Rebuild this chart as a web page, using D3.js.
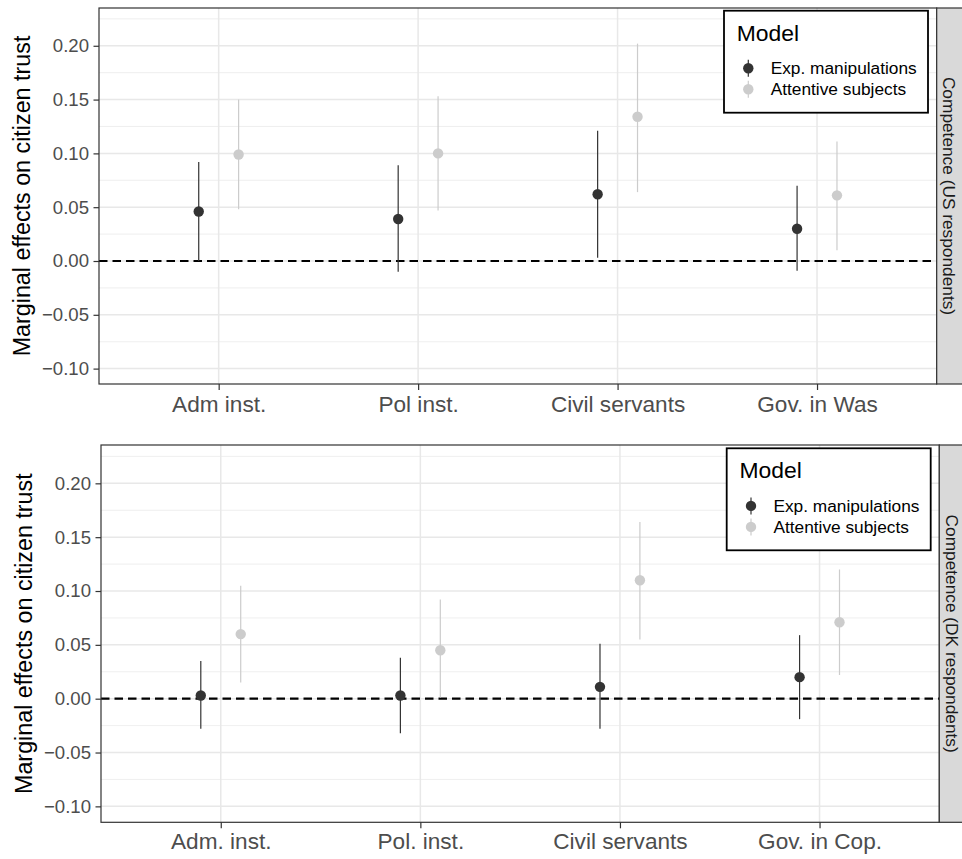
<!DOCTYPE html>
<html>
<head>
<meta charset="utf-8">
<script src="https://cdn.jsdelivr.net/npm/d3@7"></script>
<style>
  body { margin: 0; background: #fff; }
  text { font-family: "Liberation Sans", Arial, sans-serif; }
</style>
</head>
<body>
<section></section>
<script>
// categories and models
var catsUS = ["Adm inst.", "Pol inst.", "Civil servants", "Gov. in Was"];
var catsDK = ["Adm. inst.", "Pol. inst.", "Civil servants", "Gov. in Cop."];
var models = ["Exp. manipulations", "Attentive subjects"];
var yTicks = [-0.10, -0.05, 0.00, 0.05, 0.10, 0.15, 0.20];
var yMinor = [-0.075, -0.025, 0.025, 0.075, 0.125, 0.175, 0.225];

// US respondents: estimate, lower, upper (per category)
var usExpEst = [0.046, 0.039, 0.062, 0.030];
var usExpLo = [0.000, -0.010, 0.003, -0.009];
var usExpHi = [0.092, 0.089, 0.121, 0.070];
var usAttEst = [0.099, 0.100, 0.134, 0.061];
var usAttLo = [0.048, 0.047, 0.064, 0.010];
var usAttHi = [0.150, 0.153, 0.202, 0.111];

// DK respondents
var dkExpEst = [0.003, 0.003, 0.011, 0.020];
var dkExpLo = [-0.028, -0.032, -0.028, -0.019];
var dkExpHi = [0.035, 0.038, 0.051, 0.059];
var dkAttEst = [0.060, 0.045, 0.110, 0.071];
var dkAttLo = [0.015, 0.001, 0.055, 0.022];
var dkAttHi = [0.105, 0.092, 0.164, 0.120];

var colours = {"Exp. manipulations": "#333333", "Attentive subjects": "#cccccc"};

var svg = d3.select("section").append("svg")
  .attr("width", 962)
  .attr("height", 859);

svg.append("rect").attr("width", 962).attr("height", 859).attr("fill", "#fff");

function rows(cats, expEst, expLo, expHi, attEst, attLo, attHi) {
  var out = [];
  cats.forEach(function(c, i) {
    out.push({cat: c, model: models[0], est: expEst[i], lo: expLo[i], hi: expHi[i]});
    out.push({cat: c, model: models[1], est: attEst[i], lo: attLo[i], hi: attHi[i]});
  });
  return out;
}

function drawPanel(p) {
  var g = svg.append("g");
  var w = p.right - p.left, h = p.bottom - p.top;

  var x = d3.scalePoint().domain(p.cats).range([p.left, p.right]).padding(0.6);
  var y = d3.scaleLinear().domain(p.yDomain).range([p.bottom, p.top]);
  var dodge = d3.scalePoint().domain(models).range([-0.1, 0.1]);

  // grid
  g.selectAll(".minor").data(yMinor).enter().append("line")
    .attr("x1", p.left).attr("x2", p.right)
    .attr("y1", function(d) { return y(d); }).attr("y2", function(d) { return y(d); })
    .attr("stroke", "#ebebeb").attr("stroke-width", 0.8);
  g.selectAll(".major").data(yTicks).enter().append("line")
    .attr("x1", p.left).attr("x2", p.right)
    .attr("y1", function(d) { return y(d); }).attr("y2", function(d) { return y(d); })
    .attr("stroke", "#e8e8e8").attr("stroke-width", 1.5);
  g.selectAll(".vmajor").data(p.cats).enter().append("line")
    .attr("x1", function(d) { return x(d); }).attr("x2", function(d) { return x(d); })
    .attr("y1", p.top).attr("y2", p.bottom)
    .attr("stroke", "#e8e8e8").attr("stroke-width", 1.5);

  // zero line
  g.append("line")
    .attr("x1", p.left).attr("x2", p.right)
    .attr("y1", y(0)).attr("y2", y(0))
    .attr("stroke", "#000").attr("stroke-width", 2.2)
    .attr("stroke-dasharray", "8.5,5");

  // point ranges
  var px = function(d) { return x(d.cat) + dodge(d.model) * x.step(); };
  g.selectAll(".bar").data(p.data).enter().append("line")
    .attr("x1", px).attr("x2", px)
    .attr("y1", function(d) { return y(d.lo); })
    .attr("y2", function(d) { return y(d.hi); })
    .attr("stroke", function(d) { return colours[d.model]; })
    .attr("stroke-width", 1.2);
  g.selectAll(".pt").data(p.data).enter().append("circle")
    .attr("cx", px)
    .attr("cy", function(d) { return y(d.est); })
    .attr("r", 5.2)
    .attr("fill", function(d) { return colours[d.model]; });

  // panel border + strip
  g.append("rect")
    .attr("x", p.left).attr("y", p.top).attr("width", w).attr("height", h)
    .attr("fill", "none").attr("stroke", "#333").attr("stroke-width", 1.2);
  g.append("rect")
    .attr("x", p.right).attr("y", p.top).attr("width", 28).attr("height", h)
    .attr("fill", "#d9d9d9").attr("stroke", "#333").attr("stroke-width", 1.2);
  g.append("text")
    .attr("transform", "translate(" + (p.right + 12.6) + "," + (p.top + h / 2) + ") rotate(90)")
    .attr("text-anchor", "middle")
    .attr("dy", "0.35em")
    .style("font-size", "17.3px")
    .attr("fill", "#1a1a1a")
    .text(p.strip);

  // axes
  var yAxis = g.append("g")
    .attr("transform", "translate(" + p.left + ",0)")
    .call(d3.axisLeft(y).tickValues(yTicks).tickFormat(d3.format(".2f")).tickSize(5.5).tickPadding(4.5));
  var xAxis = g.append("g")
    .attr("transform", "translate(0," + p.bottom + ")")
    .call(d3.axisBottom(x).tickSize(6).tickPadding(p.xPad));
  [yAxis, xAxis].forEach(function(a) {
    a.select(".domain").remove();
    a.selectAll("line").attr("stroke", "#333").attr("stroke-width", 1.2);
    a.selectAll("text").attr("fill", "#4d4d4d").style("font-family", "Liberation Sans, Arial, sans-serif");
  });
  yAxis.selectAll("text").style("font-size", "18.6px");
  xAxis.selectAll("text").style("font-size", "22.6px");

  // axis title
  g.append("text")
    .attr("transform", "translate(" + p.titleX + "," + (p.top + h / 2) + ") rotate(-90)")
    .attr("text-anchor", "middle")
    .style("font-size", "23.3px")
    .attr("fill", "#000")
    .text("Marginal effects on citizen trust");

  // legend
  var lg = g.append("g").attr("transform", "translate(" + p.legX + "," + p.legY + ")");
  lg.append("rect").attr("width", 204).attr("height", 102)
    .attr("fill", "#fff").attr("stroke", "#000").attr("stroke-width", 1.8);
  lg.append("text").attr("x", 12.7).attr("y", 30)
    .style("font-size", "22.9px").attr("fill", "#000").text("Model");
  var item = lg.selectAll(".item").data(models).enter().append("g")
    .attr("transform", function(d, i) { return "translate(24.3," + (57.6 + i * 21) + ")"; });
  item.append("line").attr("y1", -8.5).attr("y2", 8.5)
    .attr("stroke", function(d) { return colours[d]; }).attr("stroke-width", 1.2);
  item.append("circle").attr("r", 5.2)
    .attr("fill", function(d) { return colours[d]; });
  item.append("text").attr("x", 22.4).attr("y", 6.1)
    .style("font-size", "17.3px").attr("fill", "#000")
    .text(function(d) { return d; });
}

drawPanel({
  cats: catsUS,
  data: rows(catsUS, usExpEst, usExpLo, usExpHi, usAttEst, usAttLo, usAttHi),
  left: 99, right: 936.7, top: 8, bottom: 384,
  yDomain: [-0.1143, 0.2351],
  strip: "Competence (US respondents)",
  titleX: 29.5, xPad: 5.7,
  legX: 724, legY: 10.7
});

drawPanel({
  cats: catsDK,
  data: rows(catsDK, dkExpEst, dkExpLo, dkExpHi, dkAttEst, dkAttLo, dkAttHi),
  left: 101, right: 939.3, top: 445, bottom: 822.3,
  yDomain: [-0.1148, 0.2356],
  strip: "Competence (DK respondents)",
  titleX: 31.5, xPad: 4.2,
  legX: 726.7, legY: 448.3
});
</script>
</body>
</html>
